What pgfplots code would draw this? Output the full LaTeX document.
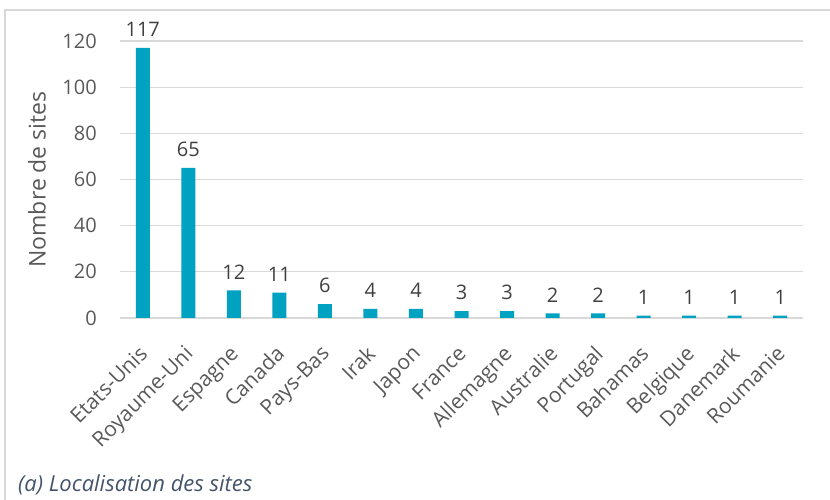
\documentclass[border=0pt]{standalone}
\usepackage{fontspec}
\setmainfont{Open Sans}
\usepackage{pgfplots}
\pgfplotsset{compat=1.18}
\definecolor{barc}{HTML}{00A2C2}
\definecolor{gridc}{HTML}{D9D9D9}
\definecolor{txt}{HTML}{595959}
\definecolor{lbl}{HTML}{404040}
\definecolor{capc}{HTML}{44546A}
\begin{document}
\begin{tikzpicture}
\useasboundingbox (0bp,0bp) rectangle (830bp,500bp);
\draw[gridc, line width=1.5bp] (5bp,0bp) -- (5bp,490bp) -- (830bp,490bp);
\begin{axis}[
  at={(120bp,182bp)}, anchor=south west,
  scale only axis, width=683bp, height=277bp,
  ymin=0, ymax=120, xmin=-0.5, xmax=14.5,
  ytick={0,20,...,120},
  xtick={0,...,14},
  xticklabels={Etats-Unis,Royaume-Uni,Espagne,Canada,Pays-Bas,Irak,Japon,France,Allemagne,Australie,Portugal,Bahamas,Belgique,Danemark,Roumanie},
  /pgf/number format/assume math mode=true,
  ymajorgrids, grid style={gridc, line width=1.2bp},
  axis line style={draw=none},
  axis x line*=bottom, axis y line*=left,
  extra y ticks={0}, extra y tick labels={},
  extra y tick style={grid style={gridc,line width=1.5bp}},
  major tick length=0pt,
  tick label style={font=\fontsize{20bp}{24bp}\selectfont, text=txt},
  yticklabel style={anchor=east, inner sep=0pt, xshift=-23bp},
  xticklabel style={anchor=north east, inner sep=0pt, xshift=-5bp, yshift=-26bp, rotate=45, font=\fontsize{21bp}{24bp}\selectfont},
  ylabel={Nombre de sites},
  every axis y label/.style={at={(axis description cs:0,0.5)}, anchor=center, xshift=-83bp, rotate=90, font=\fontsize{23bp}{26bp}\selectfont, text=txt},
  ybar, bar width=14bp,
  nodes near coords,
  every node near coord/.append style={font=\fontsize{20bp}{24bp}\selectfont, text=lbl, inner sep=0pt, yshift=11bp},
  clip=false,
]
\addplot[fill=barc, draw=none] coordinates {
(0,117) (1,65) (2,12) (3,11) (4,6) (5,4) (6,4) (7,3) (8,3) (9,2) (10,2) (11,1) (12,1) (13,1) (14,1)
};
\end{axis}
\node[anchor=base west, inner sep=0pt, text=capc, font=\fontsize{22bp}{26bp}\selectfont\itshape] at (18bp,9bp) {(a) Localisation des sites};
\end{tikzpicture}
\end{document}
